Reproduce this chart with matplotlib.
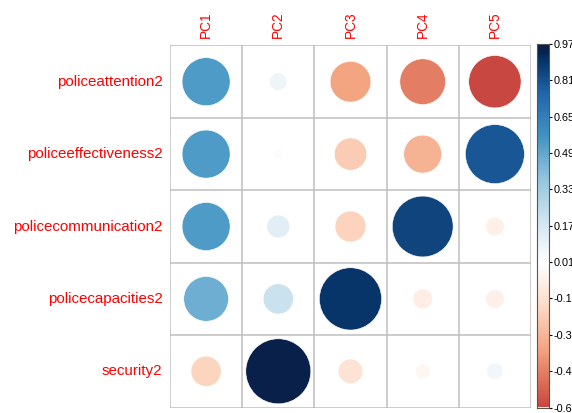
import numpy as np
import matplotlib
matplotlib.use("Agg")
import matplotlib.pyplot as plt
from matplotlib.colors import LinearSegmentedColormap, Normalize
from matplotlib.patches import Ellipse

plt.rcParams['font.family'] = ['Liberation Sans', 'DejaVu Sans']

# Loadings of each variable on the principal components
variables = ["policeattention2", "policeeffectiveness2", "policecommunication2",
             "policecapacities2", "security2"]
components = ["PC1", "PC2", "PC3", "PC4", "PC5"]
policeattention2 = [0.53, 0.07, -0.38, -0.48, -0.63]
policeeffectiveness2 = [0.53, 0.02, -0.24, -0.33, 0.80]
policecommunication2 = [0.53, 0.12, -0.22, 0.85, -0.08]
policecapacities2 = [0.46, 0.21, 0.89, -0.09, -0.08]
security2 = [-0.21, 0.97, -0.14, -0.05, 0.06]
cbar_ticks = [0.97, 0.81, 0.65, 0.49, 0.33, 0.17, 0.01, -0.15, -0.31, -0.47, -0.63]

loadings = np.array([policeattention2, policeeffectiveness2, policecommunication2,
                     policecapacities2, security2])

rdbu = ["#67001F", "#B2182B", "#D6604D", "#F4A582", "#FDDBC7", "#FFFFFF",
        "#D1E5F0", "#92C5DE", "#4393C3", "#2166AC", "#053061", "#08204A"]
positions = list(np.linspace(0, 1, 11)) + [1.0]
positions[-2] = 0.985
cmap = LinearSegmentedColormap.from_list(
    "rdbu", list(zip(positions, rdbu)), N=256)

vmax = np.abs(loadings).max()
vmin_data = loadings.min()
color_lim = 0.94
norm = Normalize(-color_lim, color_lim, clip=True)

W, H = 572, 413
fig = plt.figure(figsize=(W / 100, H / 100), dpi=100)

left, right, top, bottom = 170, 531, 45.5, 407.5
ax = fig.add_axes([left / W, 1 - bottom / H, (right - left) / W, (bottom - top) / H])
nr, nc = loadings.shape
ax.set_xlim(0, nc)
ax.set_ylim(nr, 0)

cell_w = (right - left) / nc
cell_h = (bottom - top) / nr
for i in range(nr):
    for j in range(nc):
        v = loadings[i, j]
        d = 0.9 * np.sqrt(abs(v) / vmax)
        ax.add_patch(Ellipse((j + 0.5, i + 0.5), d, d * cell_w / cell_h,
                             facecolor=cmap(norm(v)), edgecolor='white',
                             linewidth=0.4, zorder=2))

grid_color = "#BEBEBE"
for k in range(nc + 1):
    ax.axvline(k, color=grid_color, lw=1.1, zorder=1)
for k in range(nr + 1):
    ax.axhline(k, color=grid_color, lw=1.1, zorder=1)
for s in ax.spines.values():
    s.set_visible(False)
ax.set_xticks([])
ax.set_yticks([])

for i, name in enumerate(variables):
    ax.text(-0.105, i + 0.5, name, color='red', fontsize=10.9,
            ha='right', va='center')
for j, name in enumerate(components):
    ax.text(j + 0.5, -0.1, name, color='red', fontsize=9.8,
            ha='center', va='bottom', rotation=90)

# Colour legend
cax = fig.add_axes([537 / W, 1 - 407.5 / H, 12 / W, (407.5 - 44) / H])
grad = np.linspace(vmin_data, vmax, 300).reshape(-1, 1)
cax.imshow(grad, aspect='auto', cmap=cmap, norm=norm, origin='lower',
           extent=[0, 1, vmin_data, vmax])
cax.set_xlim(0, 1)
cax.set_ylim(vmin_data, vmax)
cax.set_xticks([])
cax.yaxis.tick_right()
cax.set_yticks(cbar_ticks)
cax.set_yticklabels([f"{t:.2f}" for t in cbar_ticks])
cax.tick_params(axis='y', length=2.5, width=0.8, pad=0.5, labelsize=7.8)
for s in cax.spines.values():
    s.set_color("#555555")
    s.set_linewidth(0.8)

fig.savefig("out.png", dpi=100)
